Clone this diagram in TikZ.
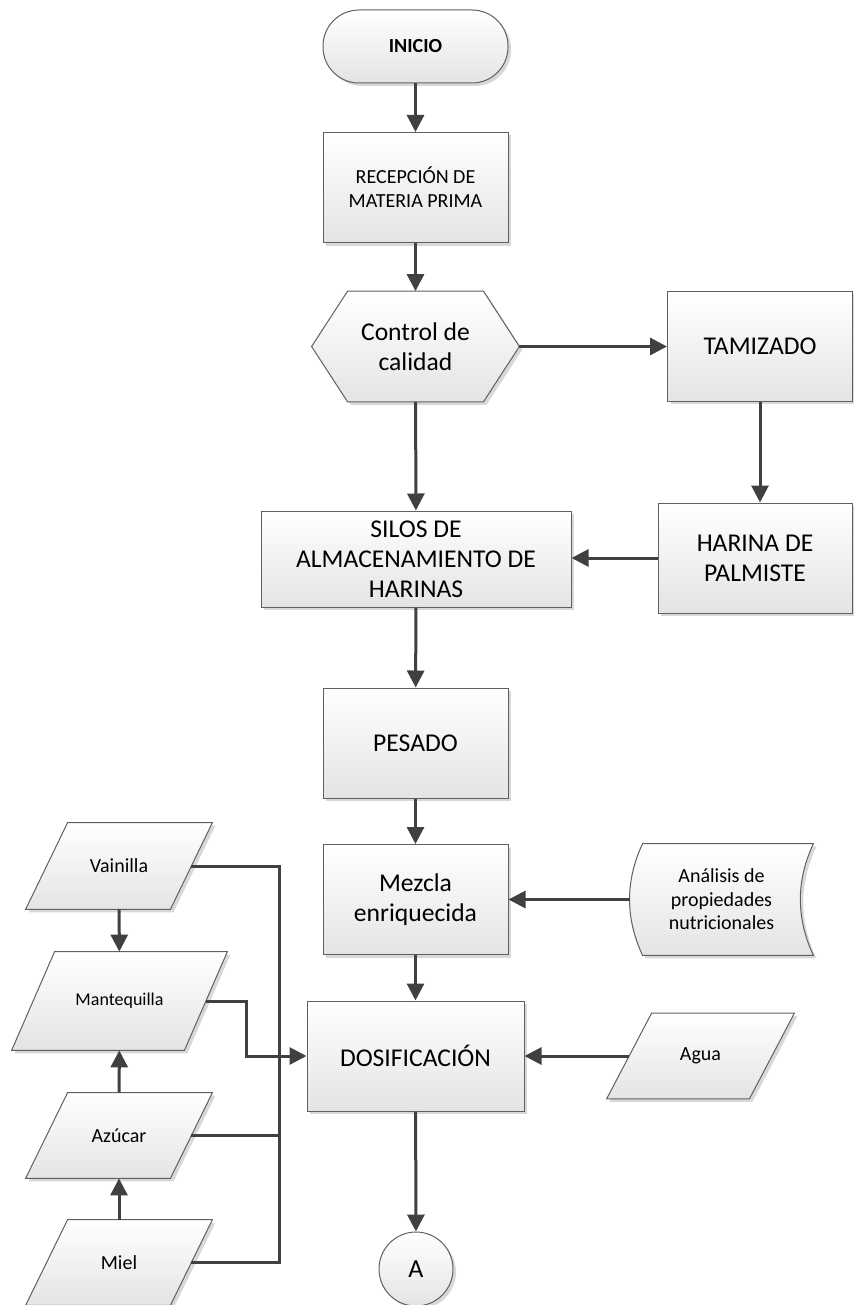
\documentclass[tikz,border=0pt]{standalone}
\usepackage{fontspec}
\setmainfont{Carlito}
\usepackage{tikz}
\usetikzlibrary{arrows.meta,shadows,backgrounds,calc}
\definecolor{linegray}{RGB}{64,64,64}
\definecolor{edgegray}{RGB}{96,96,96}
\definecolor{fillgray}{RGB}{228,228,228}

\begin{document}
\begin{tikzpicture}[
  x=0.5pt,y=-0.5pt,
  font=\fontsize{12.8}{15}\selectfont,
  skin/.style={draw=edgegray,line width=.5pt,top color=white,bottom color=fillgray,drop shadow={shadow xshift=1.5pt,shadow yshift=-1.5pt,fill=black!30,opacity=.5}},
  proc/.style={rectangle,skin,align=center,text=black,inner sep=2pt,minimum width=92.5pt,minimum height=55pt},
  term/.style={proc,rounded corners=18pt,minimum height=36.5pt,font=\bfseries\fontsize{10}{12}\selectfont},
  holder/.style={rectangle,draw=none,align=center,inner sep=0pt},
  data/.style={holder,minimum width=93pt,minimum height=43pt,font=\fontsize{10}{12}\selectfont},
  smalltext/.style={font=\fontsize{10}{12}\selectfont},
  link/.style={draw=linegray,line width=1.5pt},
  arrow/.style={link,-{Triangle[length=8.5pt,width=8.5pt]}}
]
\useasboundingbox (0,0) rectangle (854,1305);
\node[term] (inicio) at (415.5,46.5) {INICIO};
\node[proc,smalltext] (recep) at (415.5,187.5) {RECEPCIÓN DE\\MATERIA PRIMA};
\node[holder,minimum width=103.5pt,minimum height=55pt] (control) at (415.5,346.5) {Control de\\calidad};
\node[proc] (tamiz) at (760,346) {TAMIZADO};
\node[proc,minimum width=155pt,minimum height=48pt] (silos) at (416,559) {SILOS DE\\ALMACENAMIENTO DE\\HARINAS};
\node[proc,minimum width=97pt] (harina) at (755,558) {HARINA DE\\PALMISTE};
\node[proc] (pesado) at (415.5,743) {PESADO};
\node[proc] (mezcla) at (415.5,899.5) {Mezcla\\enriquecida};
\node[holder,minimum width=91.5pt,minimum height=55.5pt,font=\fontsize{10}{11.8}\selectfont] (analisis) at (721.5,899.5) {Análisis de\\propiedades\\nutricionales};
\node[proc,minimum width=108.5pt] (dosif) at (415.5,1056) {DOSIFICACIÓN};
\node[data,minimum width=93.5pt,minimum height=42.5pt] (agua) at (700.5,1056) {Agua};
\node[circle,skin,minimum size=37pt,inner sep=0pt,font=\fontsize{13}{15}\selectfont] (conA) at (416,1269) {A};
\node[data] (vainilla) at (119,866) {Vainilla};
\node[data,minimum width=107.5pt,minimum height=49pt,font=\fontsize{9}{11}\selectfont] (mantequilla) at (119.5,1001) {Mantequilla};
\node[data,minimum height=42.5pt] (azucar) at (119,1135.5) {Azúcar};
\node[data,minimum height=42.5pt] (miel) at (119,1262.5) {Miel};
\coordinate (trunk) at (279,1056);

\begin{scope}[on background layer]
\path[skin] (control.west) -- ([xshift=18pt]control.north west) -- ([xshift=-18pt]control.north east) -- (control.east)
  -- ([xshift=-18pt]control.south east) -- ([xshift=18pt]control.south west) -- cycle;
\path[skin] ([xshift=6.5pt]analisis.north west) -- (analisis.north east)
  .. controls ([xshift=-8.7pt,yshift=-18.5pt]analisis.north east) and ([xshift=-8.7pt,yshift=18.5pt]analisis.south east) .. (analisis.south east)
  -- ([xshift=6.5pt]analisis.south west)
  .. controls ([xshift=-2.2pt,yshift=18.5pt]analisis.south west) and ([xshift=-2.2pt,yshift=-18.5pt]analisis.north west) .. cycle;
\foreach \n/\s in {vainilla/21pt,mantequilla/21.5pt,azucar/21pt,miel/21pt,agua/22.5pt}
  \path[skin] ([xshift=\s]\n.north west) -- (\n.north east) -- ([xshift=-\s]\n.south east) -- (\n.south west) -- cycle;
\end{scope}

\draw[arrow] (inicio) -- (recep);
\draw[arrow] (recep) -- (control);
\draw[arrow] (control.east) -- (control.east -| tamiz.west);
\draw[arrow] (control) -- (silos);
\draw[arrow] (tamiz) -- (tamiz |- harina.north);
\draw[arrow] (harina.west) -- (harina.west -| silos.east);
\draw[arrow] (silos) -- (pesado);
\draw[arrow] (pesado) -- (mezcla);
\draw[arrow] (analisis) -- (mezcla);
\draw[arrow] (mezcla) -- (dosif);
\draw[arrow] ([xshift=11.25pt]agua.west) -- (dosif.east);
\draw[arrow] (dosif) -- (conA);
\draw[arrow] (vainilla) -- (mantequilla);
\draw[arrow] (azucar) -- (mantequilla);
\draw[arrow] (miel) -- (azucar);
\draw[link] ([xshift=-10.5pt]vainilla.east) -| (trunk);
\draw[link] ([xshift=-10.5pt]azucar.east) -| (trunk);
\draw[link] ([xshift=-10.5pt]miel.east) -| (trunk);
\draw[arrow] ([xshift=-10.75pt]mantequilla.east) -- ++(20.5pt,0) |- (dosif.west);
\end{tikzpicture}
\end{document}
